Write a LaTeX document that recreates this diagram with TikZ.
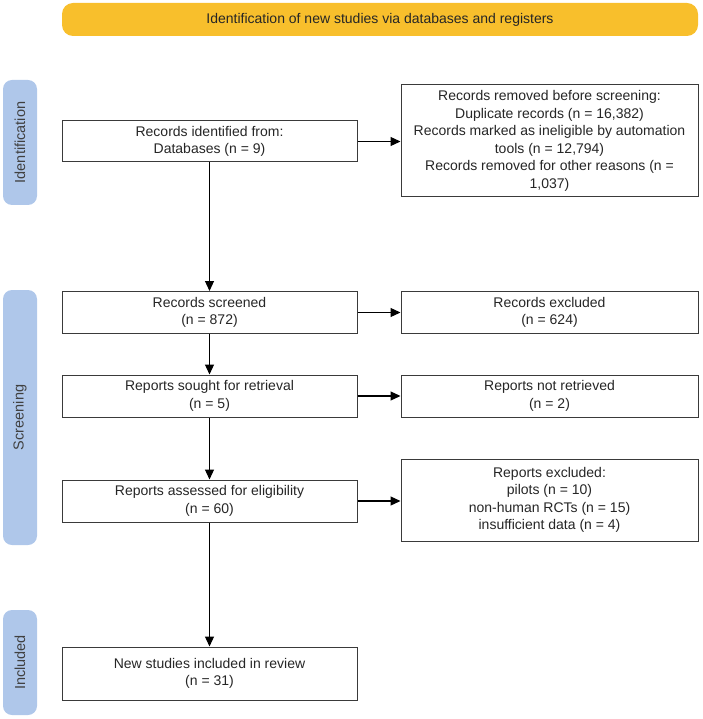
\documentclass[tikz,border=0pt]{standalone}
\usepackage{fontspec}
\setmainfont{Liberation Sans}
\usetikzlibrary{arrows.meta}
\definecolor{bannerc}{HTML}{F8BF2C}
\definecolor{pillc}{HTML}{AFC7EA}
\definecolor{edgec}{HTML}{3A3A3A}
\begin{document}
\begin{tikzpicture}[x=1pt,y=-1pt,
  box/.style={draw=edgec, line width=1pt, fill=white, align=center,
    font=\fontsize{14}{17.5}\selectfont, minimum width=295pt, inner sep=0pt, text=black!85},
  pill/.style={fill=pillc, rounded corners=9pt, rotate=90, minimum height=34pt,
    font=\fontsize{14.5}{15}\selectfont, text=black!75, inner sep=0pt},
  arr/.style={-{Triangle[length=10pt,width=9pt]}, line width=1.2pt, black}]
\useasboundingbox (0,0) rectangle (702,719);
\node[fill=bannerc, rounded corners=11pt, minimum width=636pt, minimum height=33pt,
  font=\fontsize{14}{15}\selectfont, text=black!85, inner sep=0pt] (ban) at (380,19.5)
  {Identification of new studies via databases and registers};
\node[pill, minimum width=125pt] (pid) at (20,142.5) {Identification};
\node[pill, minimum width=255pt] (psc) at (20,417.5) {Screening};
\node[pill, minimum width=105pt] (pin) at (20,662.5) {Included};
\node[box, minimum height=41pt] (b1) at (209.5,141.5) {Records identified from:\\Databases (n = 9)};
\node[box, minimum height=112pt, minimum width=297pt] (r1) at (549.5,141) {Records removed before screening:\\Duplicate records (n = 16,382)\\Records marked as ineligible by automation\\tools (n = 12,794)\\Records removed for other reasons (n =\\1,037)};
\node[box, minimum height=42pt] (b2) at (209.5,312.5) {Records screened\\(n = 872)};
\node[box, minimum height=42pt, minimum width=297pt] (r2) at (549.5,312.5) {Records excluded\\(n = 624)};
\node[box, minimum height=42pt] (b3) at (209.5,396) {Reports sought for retrieval\\(n = 5)};
\node[box, minimum height=42pt, minimum width=297pt] (r3) at (549.5,396) {Reports not retrieved\\(n = 2)};
\node[box, minimum height=42pt] (b4) at (209.5,501) {Reports assessed for eligibility\\(n = 60)};
\node[box, minimum height=82pt, minimum width=297pt] (r4) at (549.5,500) {Reports excluded:\\pilots (n = 10)\\non-human RCTs (n = 15)\\insufficient data (n = 4)};
\node[box, minimum height=53pt] (b5) at (209.5,673.5) {New studies included in review\\(n = 31)};
\draw[arr] (b1) -- (b2);
\draw[arr] (b2) -- (b3);
\draw[arr] (b3) -- (b4);
\draw[arr] (b4) -- (b5);
\draw[arr] (b1.east) -- (r1.west |- b1.east);
\draw[arr] (b2) -- (r2);
\draw[arr] (b3) -- (r3);
\draw[arr] (b4.east) -- (r4.west |- b4.east);
\end{tikzpicture}
\end{document}
